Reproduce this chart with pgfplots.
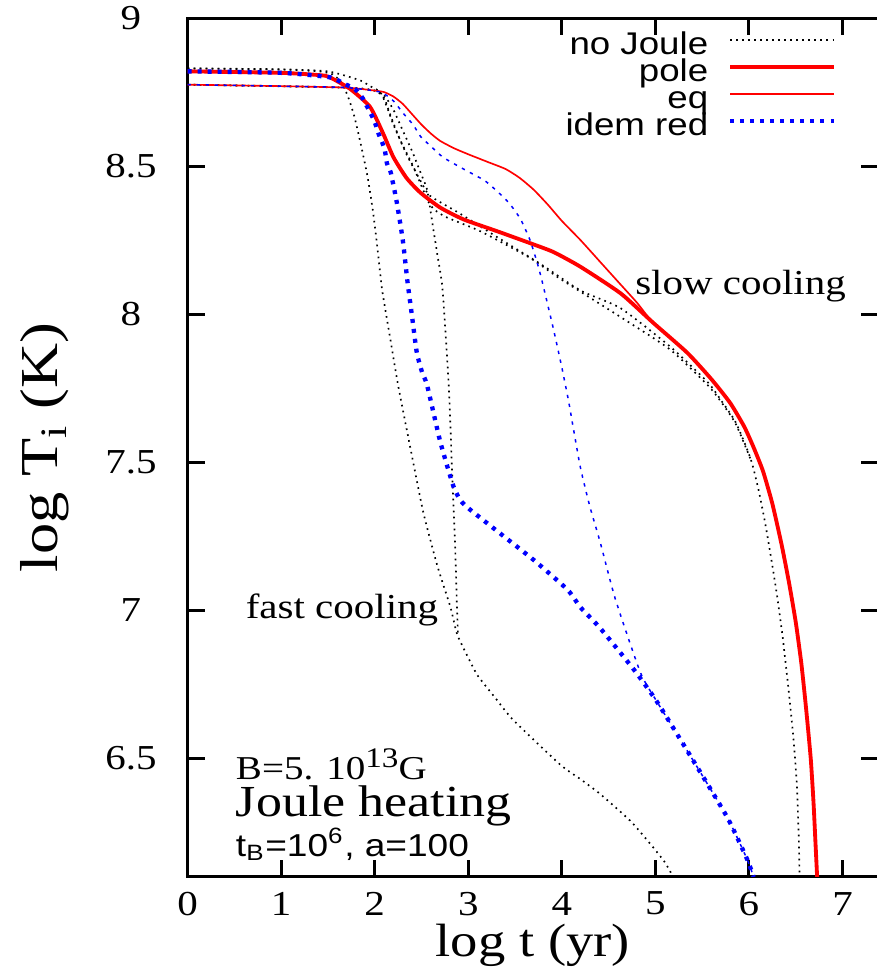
\documentclass[border=0pt]{standalone}
\usepackage{fontspec}
\setmainfont{Liberation Serif}[FakeStretch=1.17]
\newfontfamily\sansf{Liberation Sans}[FakeStretch=1.17]
\usepackage{pgfplots}
\pgfplotsset{compat=1.18}
\pgfplotsset{
 nojoule/.style={black, line width=0.5pt, dash pattern=on 0.5pt off 1.3pt, smooth, tension=0.35},
 polej/.style={red, line width=1.15pt, smooth, tension=0.35},
 eqj/.style={color=red, line width=0.5pt, smooth, tension=0.35},
 idem/.style={blue, line width=1.3pt, dash pattern=on 1.2pt off 1.8pt, smooth, tension=0.35},
 idemeq/.style={blue, line width=0.45pt, dash pattern=on 1pt off 1.7pt, smooth, tension=0.35},
}
\begin{document}
\begin{tikzpicture}
\begin{axis}[
 scale only axis, width=207pt, height=257.5pt,
 xmin=0, xmax=7.38, ymin=6.1, ymax=9,
 xtick={0,1,2,3,4,5,6,7}, ytick={6.5,7,7.5,8,8.5,9},
 tick align=inside, major tick length=5.1pt,
 axis line style={line width=0.9pt},
 every tick/.style={black, line width=0.9pt},
 /pgf/number format/assume math mode=true,
 tick label style={font=\fontsize{10.5}{12}\selectfont},
 yticklabel style={anchor=center, xshift=-17pt},
 xticklabel style={anchor=center, yshift=-8pt},
 xlabel={log t (yr)}, ylabel={log T\textsubscript{i} (K)},
 xlabel style={font=\fontsize{14}{16}\selectfont, at={(axis description cs:0.5,-0.0795)}, anchor=center},
 ylabel style={font=\fontsize{16}{18}\selectfont, at={(axis description cs:-0.2065,0.5)}, anchor=center},
 legend style={draw=none, fill=none, at={(0.94,0.982)}, anchor=north east, inner sep=0pt,
   font=\sansf\fontsize{9.4}{10}\selectfont, row sep=0pt, column sep=6pt,
   nodes={inner sep=0pt, text height=6.1pt, text depth=2pt}},
 legend cell align=right, legend plot pos=right,
 legend image code/.code={\draw[#1] (0pt,2.4pt) -- (31pt,2.4pt);},
]
% no Joule: fast pole
\addplot[nojoule] coordinates {(0,8.83) (1.0,8.826) (1.4,8.82) (1.55,8.81) (1.65,8.78) (1.72,8.73) (1.78,8.67) (1.84,8.59) (1.92,8.47) (1.98,8.35) (2.03,8.22) (2.08,8.08) (2.17,7.91) (2.25,7.76) (2.38,7.55) (2.52,7.33) (2.67,7.15) (2.81,7.01) (2.88,6.92) (3.0,6.84) (3.10,6.78) (3.3,6.70) (3.48,6.63) (3.98,6.48) (4.20,6.43) (4.41,6.38) (4.73,6.29) (4.95,6.21) (5.1,6.15) (5.19,6.10)};
\addlegendentry{no Joule}
% no Joule: fast eq
\addplot[nojoule, forget plot] coordinates {(0,8.775) (1.0,8.77) (1.7,8.765) (2.0,8.755) (2.1,8.74) (2.2,8.69) (2.3,8.62) (2.4,8.55) (2.5,8.47) (2.56,8.42) (2.62,8.30) (2.67,8.20) (2.72,8.10) (2.75,7.97) (2.78,7.82) (2.80,7.70) (2.83,7.44) (2.86,7.21) (2.88,7.0) (2.89,6.92)};
% no Joule: slow pole
\addplot[nojoule, forget plot] coordinates {(0,8.83) (1.0,8.827) (1.5,8.82) (1.84,8.79) (1.95,8.77) (2.06,8.75) (2.13,8.70) (2.2,8.64) (2.34,8.54) (2.49,8.45) (2.59,8.40) (2.91,8.34) (3.31,8.26) (3.77,8.17) (4.2,8.08) (4.63,8.02) (5.16,7.89) (5.56,7.77) (5.7,7.71) (5.85,7.64) (5.96,7.56) (6.03,7.50) (6.10,7.41) (6.17,7.30) (6.24,7.17) (6.30,7.05) (6.36,6.91) (6.41,6.77) (6.45,6.65) (6.48,6.55) (6.51,6.42) (6.525,6.30) (6.535,6.2) (6.54,6.10)};
% no Joule: slow eq
\addplot[nojoule, forget plot] coordinates {(0,8.775) (1.7,8.765) (2.0,8.755) (2.1,8.73) (2.17,8.67) (2.27,8.59) (2.41,8.50) (2.59,8.37) (2.75,8.33) (3.13,8.28) (3.66,8.19) (3.98,8.12) (4.63,7.99) (5.16,7.88) (5.56,7.76) (5.7,7.705) (5.85,7.635) (5.96,7.555) (6.03,7.50)};
% pole (Joule)
\addplot[polej] coordinates {(0,8.82) (1.0,8.815) (1.42,8.807) (1.52,8.80) (1.74,8.76) (1.95,8.70) (2.09,8.61) (2.20,8.53) (2.34,8.46) (2.49,8.41) (2.70,8.36) (2.95,8.32) (3.31,8.28) (3.66,8.24) (3.91,8.21) (4.20,8.16) (4.63,8.07) (4.98,7.97) (5.34,7.87) (5.6,7.78) (5.8,7.70) (5.95,7.62) (6.05,7.55) (6.15,7.47) (6.25,7.36) (6.35,7.22) (6.43,7.09) (6.50,6.96) (6.56,6.82) (6.61,6.67) (6.66,6.50) (6.69,6.35) (6.71,6.22) (6.73,6.09)};
\addlegendentry{pole}
% eq (Joule)
\addplot[eqj] coordinates {(0,8.775) (1.0,8.77) (1.7,8.765) (2.0,8.755) (2.1,8.75) (2.2,8.735) (2.3,8.71) (2.4,8.675) (2.5,8.64) (2.6,8.61) (2.7,8.585) (2.85,8.56) (3.0,8.54) (3.2,8.515) (3.4,8.49) (3.55,8.46) (3.7,8.42) (3.85,8.37) (4.0,8.315) (4.2,8.25) (4.4,8.18) (4.6,8.11) (4.8,8.04) (4.98,7.97) (5.34,7.87) (5.6,7.78) (5.8,7.70) (5.95,7.62) (6.05,7.55) (6.15,7.47) (6.25,7.36) (6.35,7.22) (6.43,7.09) (6.50,6.96) (6.56,6.82) (6.61,6.67) (6.66,6.50) (6.69,6.35) (6.71,6.22) (6.73,6.09)};
\addlegendentry{eq}
% idem red (pole)
\addplot[idem] coordinates {(0,8.82) (1.0,8.815) (1.52,8.80) (1.66,8.78) (1.79,8.76) (1.87,8.73) (1.92,8.70) (1.97,8.67) (2.01,8.64) (2.04,8.61) (2.08,8.58) (2.11,8.55) (2.13,8.51) (2.17,8.48) (2.19,8.45) (2.21,8.42) (2.24,8.37) (2.30,8.25) (2.35,8.11) (2.40,7.99) (2.45,7.87) (2.51,7.80) (2.56,7.76) (2.70,7.57) (2.84,7.42) (2.92,7.37) (3.02,7.34) (3.34,7.26) (3.70,7.17) (4.06,7.07) (4.20,7.01) (4.41,6.94) (4.77,6.80) (5.02,6.69) (5.41,6.49) (5.77,6.30) (5.98,6.16) (6.05,6.10)};
\addlegendentry{idem red}
% idem red (eq)
\addplot[idemeq, forget plot] coordinates {(0,8.775) (1.0,8.77) (1.7,8.765) (2.06,8.75) (2.20,8.72) (2.30,8.68) (2.41,8.64) (2.49,8.60) (2.59,8.57) (2.73,8.53) (2.95,8.49) (3.18,8.45) (3.36,8.40) (3.45,8.37) (3.56,8.32) (3.66,8.25) (3.74,8.17) (3.79,8.11) (3.91,7.95) (4.00,7.82) (4.07,7.71) (4.12,7.62) (4.2,7.48) (4.3,7.35) (4.41,7.23) (4.57,7.04) (4.84,6.79) (5.02,6.69) (5.41,6.49) (5.77,6.30) (5.98,6.16) (6.05,6.10)};
\node[font=\fontsize{10.5}{12}\selectfont] at (axis cs:5.91,8.095) {slow cooling};
\node[font=\fontsize{10.5}{12}\selectfont] at (axis cs:1.65,7.0) {fast cooling};
\node[anchor=west, inner sep=0pt, font=\fontsize{10}{11}\selectfont] at (axis cs:0.51,6.48) {B=5. 10\raisebox{0.75ex}{\fontsize{8.5}{9}\selectfont 13}G};
\node[anchor=west, inner sep=0pt, font=\fontsize{13.3}{15}\selectfont] at (axis cs:0.51,6.34) {Joule heating};
\node[anchor=west, inner sep=0pt, font=\sansf\fontsize{9.5}{11}\selectfont] at (axis cs:0.51,6.21) {t\textsubscript{B}=10\textsuperscript{6}, a=100};
\coordinate (bbsw) at (rel axis cs:-0.2717,-0.1048);
\coordinate (bbne) at (rel axis cs:0.9978,1.021);
\end{axis}
\pgfresetboundingbox
\path (bbsw) rectangle (bbne);
\end{tikzpicture}
\end{document}
